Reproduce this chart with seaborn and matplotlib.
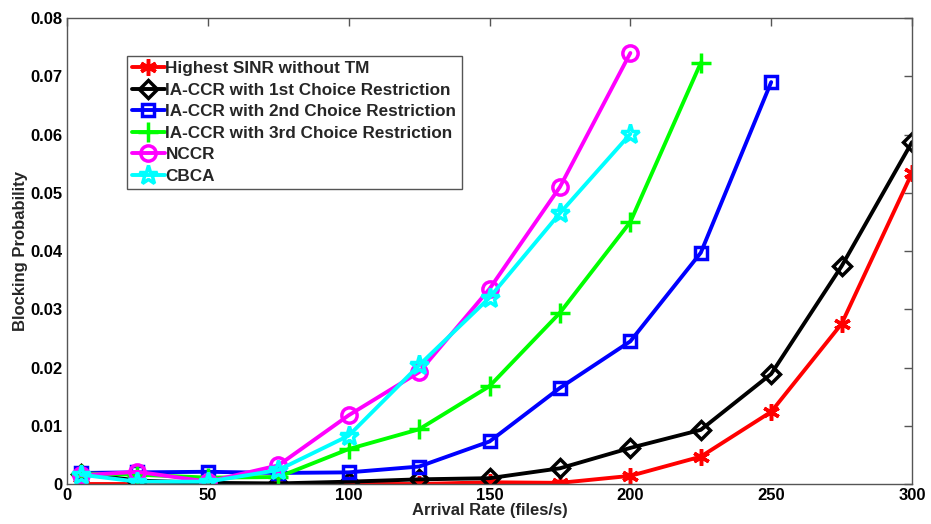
import numpy as np
import pandas as pd
import seaborn as sns
import matplotlib
matplotlib.use("Agg")
import matplotlib.pyplot as plt

# Arrival rates (files/s)
arrival = [5, 25, 50, 75, 100, 125, 150, 175, 200, 225, 250, 275, 300]

# Blocking probability of each scheme (NaN where the run was not simulated)
nan = np.nan
highest_sinr = [0.0, 0.0, 0.0, 0.0, 0.0, 0.0, 0.0003, 0.0002, 0.0014, 0.0047, 0.0124, 0.0275, 0.0534]
iaccr_1st = [0.0018, 0.0006, 0.0002, 0.0001, 0.0004, 0.0008, 0.0010, 0.0027, 0.0062, 0.0093, 0.0189, 0.0374, 0.0587]
iaccr_2nd = [0.0019, 0.0020, 0.0021, 0.0019, 0.0020, 0.0030, 0.0073, 0.0165, 0.0245, 0.0397, 0.0690, nan, nan]
iaccr_3rd = [0.0018, 0.0016, 0.0011, 0.0012, 0.0060, 0.0094, 0.0168, 0.0294, 0.0450, 0.0723, nan, nan, nan]
nccr = [0.0015, 0.0021, 0.0004, 0.0032, 0.0118, 0.0192, 0.0335, 0.0510, 0.0740, nan, nan, nan, nan]
cbca = [0.0016, 0.0004, 0.0004, 0.0024, 0.0083, 0.0204, 0.0320, 0.0465, 0.0601, nan, nan, nan, nan]

labels = [
    "Highest SINR without TM",
    "IA-CCR with 1st Choice Restriction",
    "IA-CCR with 2nd Choice Restriction",
    "IA-CCR with 3rd Choice Restriction",
    "NCCR",
    "CBCA",
]
series = [highest_sinr, iaccr_1st, iaccr_2nd, iaccr_3rd, nccr, cbca]
colors = ["#ff0000", "#000000", "#0000ff", "#00ff00", "#ff00ff", "#00ffff"]
asterisk = (6, 2, 0)
markers = [asterisk, "D", "s", "+", "o", "*"]
msizes = [12, 9, 9, 14, 11, 14]

x_ticks = [0, 50, 100, 150, 200, 250, 300]
y_ticks = [0, 0.01, 0.02, 0.03, 0.04, 0.05, 0.06, 0.07, 0.08]
y_ticklabels = ["0", "0.01", "0.02", "0.03", "0.04", "0.05", "0.06", "0.07", "0.08"]

sns.set_theme(style="white")
plt.rcParams["font.family"] = ["Liberation Sans", "DejaVu Sans"]
plt.rcParams["font.weight"] = "bold"

fig = plt.figure(figsize=(9.31, 5.24), dpi=100)
ax = fig.add_axes([0.072, 0.0763, 0.9076, 0.8893])

rows = []
for lab, vals in zip(labels, series):
    for xv, yv in zip(arrival, vals):
        rows.append({"scheme": lab, "rate": xv, "prob": yv})
df = pd.DataFrame(rows)

for lab, col, mk, ms in zip(labels, colors, markers, msizes):
    sub = df[df["scheme"] == lab].dropna()
    sns.lineplot(data=sub, x="rate", y="prob", ax=ax, color=col, marker=mk,
                 markersize=ms, markerfacecolor="none", markeredgecolor=col,
                 markeredgewidth=2.5, linewidth=2.8, label=lab, estimator=None,
                 sort=False)

ax.set_xlim(0, 300)
ax.set_ylim(0, 0.08)
ax.set_xticks(x_ticks)
ax.set_xticklabels([str(t) for t in x_ticks])
ax.set_yticks(y_ticks)
ax.set_yticklabels(y_ticklabels)
ax.tick_params(direction="in", length=6, width=1, color="#555555",
               top=True, right=True, labelsize=12, pad=3,
               labelcolor="black")
for lbl in ax.get_xticklabels() + ax.get_yticklabels():
    lbl.set_fontweight("bold")
for sp in ax.spines.values():
    sp.set_color("#555555")
    sp.set_linewidth(1)

ax.set_xlabel("Arrival Rate (files/s)", fontsize=12, fontweight="bold", labelpad=0)
ax.set_ylabel("Blocking Probability", fontsize=12, fontweight="bold", labelpad=2)

leg = ax.legend(loc="upper left", bbox_to_anchor=(0.071, 0.918), borderaxespad=0,
                prop={"size": 12.3, "weight": "bold"}, handlelength=1.9,
                handletextpad=0.05, labelspacing=0.38, borderpad=0.3,
                fancybox=False, framealpha=1, edgecolor="#555555")
leg.get_frame().set_linewidth(1)

fig.savefig("out.png", dpi=100, facecolor="white")
